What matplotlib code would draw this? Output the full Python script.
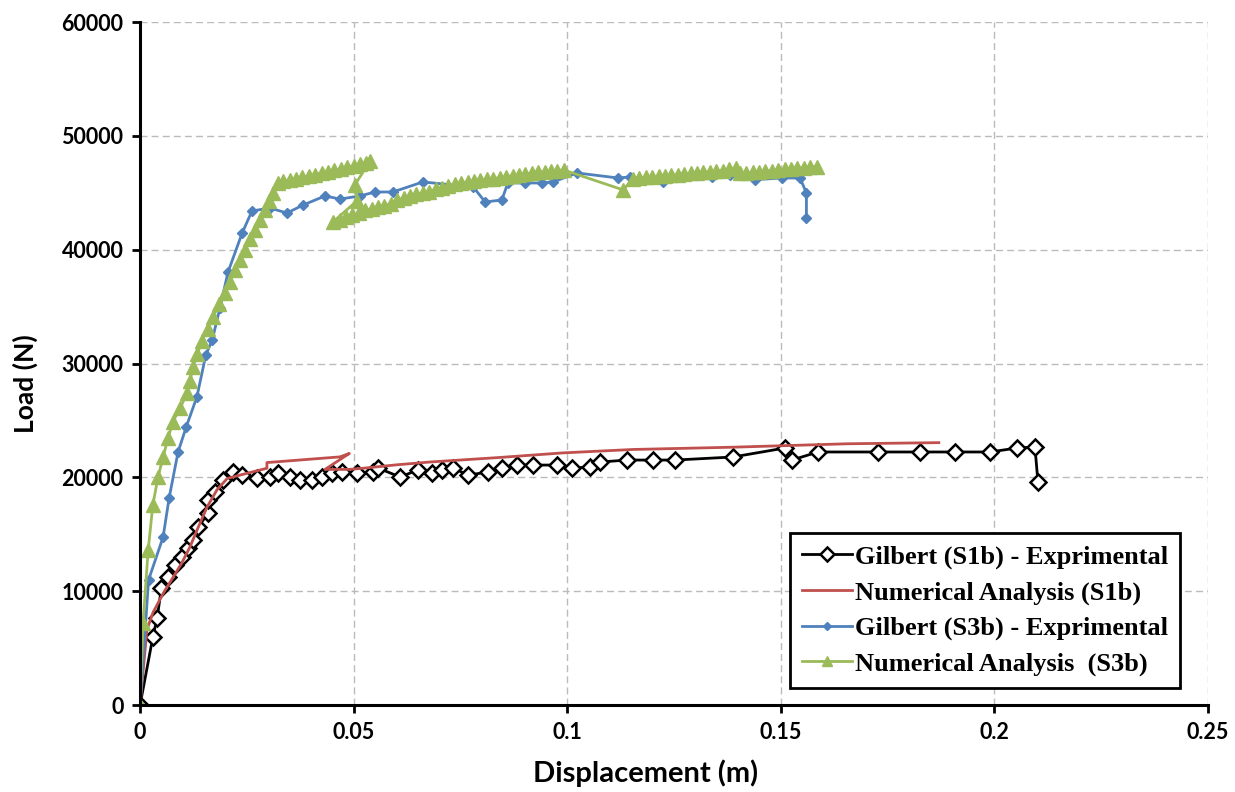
import matplotlib
matplotlib.use("Agg")
import matplotlib.pyplot as plt

# Gilbert (S1b) - experimental
s1b_exp_x = [0.0, 0.003, 0.004, 0.005, 0.0066, 0.0082, 0.0098, 0.0112, 0.0124, 0.0136,
             0.016, 0.016, 0.0176, 0.0195, 0.0218, 0.0239, 0.0274, 0.0304, 0.0323, 0.035,
             0.0375, 0.0403, 0.0426, 0.045, 0.0473, 0.0508, 0.0545, 0.0557, 0.0609, 0.065,
             0.0683, 0.0707, 0.0733, 0.0768, 0.0815, 0.0847, 0.0882, 0.092, 0.0976, 0.1011,
             0.1054, 0.1077, 0.114, 0.1201, 0.1252, 0.1388, 0.151, 0.1526, 0.1587, 0.1728,
             0.1826, 0.1908, 0.199, 0.2053, 0.2095, 0.2102]
s1b_exp_y = [0, 5970, 7640, 10280, 11250, 12300, 13000, 13800, 14500, 15640,
             16870, 18000, 18700, 19770, 20470, 20200, 19940, 20030, 20380, 20030,
             19770, 19770, 20030, 20380, 20470, 20380, 20470, 20820, 20030, 20650,
             20380, 20650, 20820, 20200, 20470, 20820, 21080, 21080, 21080, 20820,
             20910, 21350, 21520, 21520, 21520, 21790, 22580, 21520, 22230, 22230,
             22230, 22230, 22230, 22580, 22670, 19590]

# Numerical analysis (S1b)
s1b_num_x = [0.0, 0.0016, 0.003, 0.0054, 0.0077, 0.0098, 0.0117, 0.0136, 0.0157, 0.018,
             0.0204, 0.0234, 0.0297, 0.0297, 0.0468, 0.049, 0.0433, 0.049, 0.0522, 0.06,
             0.0679, 0.0843, 0.099, 0.1154, 0.1388, 0.1655, 0.187]
s1b_num_y = [0, 6600, 8100, 9800, 11200, 12500, 13900, 15600, 17400, 18900,
             19900, 20200, 20800, 21300, 21800, 22100, 20700, 20700, 20800, 21100,
             21350, 21750, 22150, 22450, 22650, 22950, 23050]

# Gilbert (S3b) - experimental
s3b_exp_x = [0.0, 0.002, 0.0054, 0.0068, 0.0089, 0.0108, 0.0133, 0.0154, 0.0169, 0.0187,
             0.0206, 0.0239, 0.0262, 0.0304, 0.0344, 0.0382, 0.0433, 0.0468, 0.0515, 0.055,
             0.0592, 0.0662, 0.078, 0.0808, 0.0847, 0.0861, 0.0901, 0.094, 0.0967, 0.1023,
             0.1119, 0.1147, 0.1224, 0.1339, 0.138, 0.144, 0.1503, 0.1545, 0.156, 0.156]
s3b_exp_y = [0, 11000, 14760, 18180, 22230, 24420, 27060, 30750, 32070, 34880,
             38040, 41460, 43400, 43660, 43220, 43930, 44720, 44450, 44720, 45070,
             45070, 45950, 45510, 44190, 44370, 45860, 45860, 45860, 45950, 46740,
             46300, 46390, 45950, 46400, 46550, 46150, 46300, 46300, 44980, 42780]

# Numerical analysis (S3b)
s3b_num_x = [0.0, 0.0007, 0.0019, 0.003, 0.0042, 0.0054, 0.0066, 0.0077, 0.0094, 0.011,
             0.0117, 0.0124, 0.0134, 0.0145, 0.0158, 0.0171, 0.0185, 0.0199, 0.021, 0.0222,
             0.0234, 0.0246, 0.0258, 0.0269, 0.0281, 0.0293, 0.0302, 0.0311, 0.0323,
             0.0335, 0.035, 0.0365, 0.038, 0.0395, 0.041, 0.0425, 0.044, 0.0455, 0.047,
             0.0485, 0.05, 0.0515, 0.053, 0.0538,
             0.0503, 0.0508, 0.0452,
             0.0467, 0.0482, 0.0497, 0.0512, 0.0527, 0.0542, 0.0557, 0.0572, 0.0587, 0.0602,
             0.0617, 0.0632, 0.0647, 0.0662, 0.0677, 0.0692, 0.0707, 0.0722, 0.0737, 0.0752,
             0.0767, 0.0782, 0.0797, 0.0812, 0.0827, 0.0842, 0.0857, 0.0872, 0.0887, 0.0902,
             0.0917, 0.0932, 0.0947, 0.0962, 0.0977, 0.0992,
             0.1131,
             0.1154, 0.1169, 0.1184, 0.1199, 0.1214, 0.1229, 0.1244, 0.1259, 0.1274, 0.1289,
             0.1304, 0.1319, 0.1334, 0.1349, 0.1364, 0.1379, 0.1394,
             0.1404, 0.1419, 0.1434, 0.1449, 0.1464, 0.1479, 0.1494, 0.1509, 0.1524, 0.1539,
             0.1554, 0.1569, 0.1584]
s3b_num_y = [0, 7200, 13600, 17600, 20000, 21800, 23500, 24900, 26100, 27400,
             28500, 29700, 30800, 32000, 33000, 34100, 35200, 36200, 37200, 38200,
             39100, 40000, 40900, 41700, 42600, 43500, 44250, 45000, 45900,
             46000, 46100, 46250, 46350, 46500, 46600, 46750, 46850, 47000, 47100,
             47250, 47350, 47500, 47650, 47750,
             45700, 44300, 42450,
             42650, 42850, 43050, 43250, 43450, 43600, 43750, 43850, 44050, 44350,
             44550, 44700, 44850, 44950, 45100, 45300, 45450, 45600, 45750, 45850,
             45950, 46050, 46100, 46200, 46250, 46300, 46400, 46500, 46550, 46650,
             46700, 46800, 46850, 46900, 46950, 47000,
             45250,
             46250, 46300, 46350, 46400, 46450, 46500, 46550, 46600, 46650, 46700,
             46750, 46800, 46850, 46900, 46950, 47050, 47150,
             46700, 46750, 46800, 46850, 46900, 46950, 47000, 47050, 47100, 47150,
             47200, 47250, 47300]

x_ticks = [0, 0.05, 0.1, 0.15, 0.2, 0.25]
x_tick_labels = ["0", "0.05", "0.1", "0.15", "0.2", "0.25"]
y_ticks = [0, 10000, 20000, 30000, 40000, 50000, 60000]

fig = plt.figure(figsize=(12.35, 7.92), dpi=100)
ax = fig.add_axes([0.1134, 0.1098, 0.8647, 0.8624])

ax.plot(s1b_exp_x, s1b_exp_y, color="black", lw=2, marker="D", ms=8.5,
        mfc="white", mec="black", mew=1.8, label="Gilbert (S1b) - Exprimental")
ax.plot(s1b_num_x, s1b_num_y, color="#C0504D", lw=2, label="Numerical Analysis (S1b)")
ax.plot(s3b_exp_x, s3b_exp_y, color="#4F81BD", lw=2, marker="D", ms=5.5,
        mfc="#4F81BD", mec="#4F81BD", label="Gilbert (S3b) - Exprimental")
ax.plot(s3b_num_x, s3b_num_y, color="#9BBB59", lw=2, marker="^", ms=9.5,
        mfc="#9BBB59", mec="#9BBB59", label="Numerical Analysis  (S3b)")

ax.set_xlim(0, 0.25)
ax.set_ylim(0, 60000)
ax.set_xticks(x_ticks)
ax.set_xticklabels(x_tick_labels)
ax.set_yticks(y_ticks)
ax.set_yticklabels([str(v) for v in y_ticks])

ax.grid(True, color="#bbbbbb", linestyle=(0, (5, 3)), lw=1)
ax.set_axisbelow(True)
for s in ["top", "right"]:
    ax.spines[s].set_visible(False)
for s in ["left", "bottom"]:
    ax.spines[s].set_linewidth(2.2)
ax.tick_params(direction="out", length=6, width=2, labelsize=15.5, pad=6)
for lab in ax.get_xticklabels() + ax.get_yticklabels():
    lab.set_fontfamily("Lato")
    lab.set_fontweight("bold")

ax.set_xlabel("Displacement (m)", fontfamily="Lato", fontweight="bold", fontsize=21)
ax.xaxis.set_label_coords(0.473, -0.08)
ax.set_ylabel("Load (N)", fontfamily="Lato", fontweight="bold", fontsize=19)
ax.yaxis.set_label_coords(-0.096, 0.47)

leg = ax.legend(loc="lower right", bbox_to_anchor=(0.9738, 0.0249), borderaxespad=0,
                prop={"family": "Liberation Serif", "weight": "bold", "size": 19},
                fancybox=False, edgecolor="black", framealpha=1, handlelength=1.9,
                handletextpad=0.1, labelspacing=0.45, borderpad=0.45, markerscale=0.8)
leg.get_frame().set_linewidth(2)

fig.savefig("out.png", dpi=100)
